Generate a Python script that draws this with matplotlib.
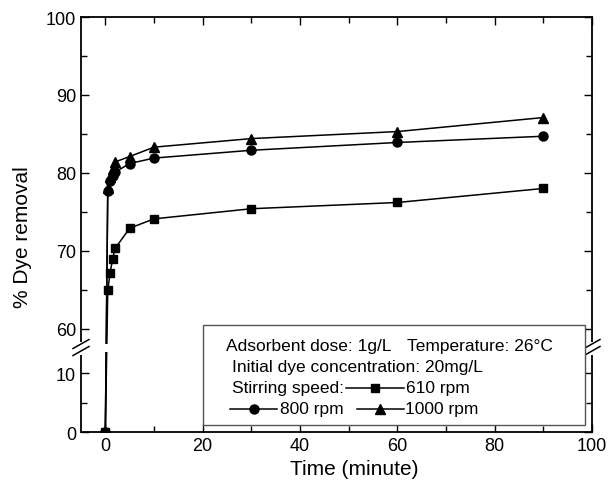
import numpy as np
import matplotlib
matplotlib.use('Agg')
import matplotlib.pyplot as plt
from matplotlib.lines import Line2D
from matplotlib.patches import Rectangle
from matplotlib.transforms import blended_transform_factory

plt.rcParams['font.family'] = ['Liberation Sans', 'DejaVu Sans']

# --- data ---
time_min = [0, 0.5, 1, 1.5, 2, 5, 10, 30, 60, 90]
removal_610 = [0, 65.0, 67.2, 69.0, 70.3, 72.9, 74.1, 75.4, 76.2, 78.0]
removal_800 = [0, 77.7, 79.0, 79.6, 80.1, 81.2, 81.9, 82.9, 83.9, 84.7]
removal_1000 = [0, 78.0, 79.5, 80.5, 81.4, 82.1, 83.3, 84.4, 85.3, 87.1]

y_major = [0, 10, 60, 70, 80, 90, 100]
y_minor = [5, 65, 75, 85, 95]

# broken y axis: 0..LO_TOP below the break, HI_BOT..100 above it
LO_TOP, HI_BOT = 14.07, 57.4
K_LO, K_HI, K_GAP = 5.9, 7.8, 0.001


def fwd(v):
    v = np.asarray(v, dtype=float)
    base = LO_TOP * K_LO
    top = base + (HI_BOT - LO_TOP) * K_GAP
    return np.where(v <= LO_TOP, v * K_LO,
                    np.where(v >= HI_BOT, top + (v - HI_BOT) * K_HI,
                             base + (v - LO_TOP) * K_GAP))


def inv(d):
    d = np.asarray(d, dtype=float)
    base = LO_TOP * K_LO
    top = base + (HI_BOT - LO_TOP) * K_GAP
    return np.where(d <= base, d / K_LO,
                    np.where(d >= top, HI_BOT + (d - top) / K_HI,
                             LO_TOP + (d - base) / K_GAP))


W, H = 611, 485
fig = plt.figure(figsize=(W / 100, H / 100), dpi=100)
ax = fig.add_axes([81 / W, 1 - 433 / H, (592 - 81) / W, (433 - 18) / H])


def px(x, y):
    return x / W, 1 - y / H


ax.set_yscale('function', functions=(fwd, inv))
ax.set_ylim(0, 100)
ax.set_xlim(-5, 100)

ax.plot(time_min, removal_610, marker='s', markersize=6, color='black', lw=1.1, zorder=3)
ax.plot(time_min, removal_800, marker='o', markersize=6.5, color='black', lw=1.1, zorder=3)
ax.plot(time_min, removal_1000, marker='^', markersize=6.5, color='black', lw=1.1, zorder=3)

ax.set_xticks([0, 20, 40, 60, 80, 100])
ax.set_xticks([10, 30, 50, 70, 90], minor=True)
ax.set_yticks(y_major)
ax.set_yticks(y_minor, minor=True)
ax.tick_params(which='both', direction='in', top=True, right=True,
               labelsize=13, width=1)
ax.tick_params(which='major', length=6)
ax.tick_params(which='minor', length=4)
for s in ax.spines.values():
    s.set_linewidth(1.3)

ax.set_xlabel('Time (minute)', fontsize=15)
ax.xaxis.set_label_coords(0.534, -0.065)
ax.set_ylabel('% Dye removal', fontsize=15)
ax.yaxis.set_label_coords(-0.096, 0.471)

# gap in the data lines at the break
bt = blended_transform_factory(ax.transData, ax.transAxes)
brk = (433 - 353) / (433 - 18)
ax.add_patch(Rectangle((-4, brk), 15, 8 / 415, transform=bt,
                       facecolor='white', edgecolor='none', zorder=4))

# break marks on both spines
for sx in (81, 592):
    fig.add_artist(Rectangle(px(sx - 3, 356), 6 / W, 13 / H,
                             transform=fig.transFigure, facecolor='white',
                             edgecolor='none', zorder=5))
    for cy in (345, 352):
        x0, y0 = px(sx - 8, cy + 4.5)
        x1, y1 = px(sx + 8, cy - 4.5)
        fig.add_artist(Line2D([x0, x1], [y0, y1], transform=fig.transFigure,
                              color='black', lw=1.1, zorder=6))

# legend box
fig.add_artist(Rectangle(px(203, 426), (585 - 203) / W, (426 - 326) / H,
                         transform=fig.transFigure, facecolor='white',
                         edgecolor='#555555', lw=1.0, zorder=7))
fs = 12.5
tkw = dict(fontsize=fs, va='center', ha='left', zorder=8)
fig.text(*px(226, 346), 'Adsorbent dose: 1g/L', **tkw)
fig.text(*px(407, 346), 'Temperature: 26\u00b0C', **tkw)
fig.text(*px(232, 368), 'Initial dye concentration: 20mg/L', **tkw)
fig.text(*px(232, 389), 'Stirring speed:', **tkw)


def legend_handle(x0, x1, y, marker, ms):
    a, b = px(x0, y)
    c, _ = px(x1, y)
    fig.add_artist(Line2D([a, c], [b, b], transform=fig.transFigure,
                          color='black', lw=1.1, zorder=8))
    fig.add_artist(Line2D([(a + c) / 2], [b], transform=fig.transFigure,
                          color='black', marker=marker, markersize=ms,
                          zorder=9))


legend_handle(346, 404, 389, 's', 6)
fig.text(*px(406, 389), '610 rpm', **tkw)
legend_handle(230, 277, 410, 'o', 6.5)
fig.text(*px(280, 410), '800 rpm', **tkw)
legend_handle(357, 404, 410, '^', 6.5)
fig.text(*px(405, 410), '1000 rpm', **tkw)

fig.savefig('out.png', dpi=100)
